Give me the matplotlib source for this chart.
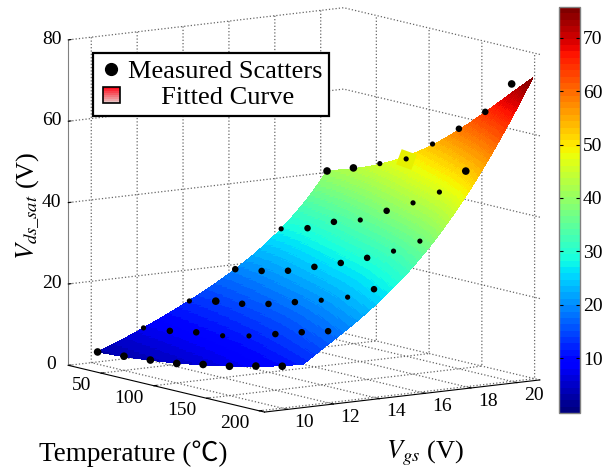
import matplotlib
matplotlib.use('Agg')
import matplotlib.pyplot as plt
import numpy as np
from matplotlib.cm import ScalarMappable
from matplotlib.colors import LinearSegmentedColormap, Normalize
from matplotlib.legend_handler import HandlerBase
from matplotlib.lines import Line2D
from matplotlib.patches import Patch, Rectangle
from matplotlib.transforms import ScaledTranslation

temps = [25, 50, 75, 100, 125, 150, 175, 200]
vgs = [10, 12, 14, 16, 18, 20]

# measured points, one list per Vgs
vds_10 = [3.0, 3.5, 4.1, 4.8, 6.1, 7.2, 8.8, 10.3]
vds_12 = [7.6, 8.4, 9.6, 10.3, 11.8, 13.8, 15.8, 17.6]
vds_14 = [12.9, 14.4, 15.3, 16.8, 18.8, 20.8, 23.1, 26.6]
vds_16 = [19.4, 20.5, 22.1, 24.6, 27.1, 29.9, 33.1, 37.1]
vds_18 = [28.0, 29.7, 32.8, 34.8, 38.6, 42.1, 46.3, 53.0]
vds_20 = [40.9, 43.2, 45.8, 48.5, 53.7, 59.0, 64.7, 73.1]

# fitted surface, it runs on past the last measured temp
fit_temps = [25, 50, 75, 100, 125, 150, 175, 200, 220]
fit_10 = [3.0, 3.5, 4.1, 4.8, 6.1, 7.2, 8.8, 10.3, 12.1]
fit_12 = [7.6, 8.4, 9.6, 10.3, 11.8, 13.8, 15.8, 17.6, 19.9]
fit_14 = [12.9, 14.4, 15.3, 16.8, 18.8, 20.8, 23.1, 25.6, 28.6]
fit_16 = [19.4, 20.5, 22.1, 24.6, 27.1, 29.9, 33.1, 36.6, 40.8]
fit_18 = [28.0, 29.7, 32.8, 34.8, 38.6, 42.1, 46.3, 50.6, 56.5]
fit_20 = [40.9, 43.2, 45.8, 48.5, 53.7, 59.0, 64.7, 70.6, 76.0]

plt.rcParams['font.family'] = ['Liberation Serif', 'Noto Sans CJK SC']
plt.rcParams['mathtext.fontset'] = 'stix'

fig = plt.figure(figsize=(6.13, 4.74), dpi=100)
ax = fig.add_axes([-4 / 613, -44 / 474, 600 / 613, 600 / 474], projection='3d', proj_type='ortho')
ax.computed_zorder = False
ax.view_init(elev=9.6, azim=-35)
ax.set_box_aspect((342, 336, 330), zoom=0.942)
ax.patch.set_alpha(0)
ax.set_xlim(19, 205, view_margin=0)
ax.set_ylim(9, 21, view_margin=0)
ax.set_zlim(0, 80, view_margin=0)

jet = plt.get_cmap('jet', 64)
norm = Normalize(-0.3, 75.8)

# only smooths the read grid so the shading comes out in fine bands
fit_rows = np.array([fit_10, fit_12, fit_14, fit_16, fit_18, fit_20])
fine_t = np.linspace(fit_temps[0], fit_temps[-1], 140)
fine_v = np.linspace(vgs[0], vgs[-1], 140)
rows = np.array([np.polyval(np.polyfit(fit_temps, r, 4), fine_t) for r in fit_rows])
fine_z = np.array([np.polyval(np.polyfit(vgs, c, 4), fine_v) for c in rows.T]).T
tt, vv = np.meshgrid(fine_t, fine_v)
ax.plot_surface(tt, vv, fine_z, cmap=jet, norm=norm, rcount=140, ccount=140,
                linewidth=0, antialiased=False, shade=False, zorder=2)

tg, vg = np.meshgrid(temps, vgs)
zg = np.array([vds_10, vds_12, vds_14, vds_16, vds_18, vds_20])
# dots sink into the surface by different amounts in the original
big, med, small = 30, 22, 14
dot_sizes = [[big, big, big, big, big, big, big, big],
             [small, med, med, small, small, med, med, med],
             [small, big, med, med, med, small, small, med],
             [med, med, med, med, med, med, small, small],
             [small, med, med, small, med, small, small, big],
             [big, big, small, small, small, med, med, big]]
# the odd yellow tile on the back edge
ax.scatter([temps[3]], [vgs[5]], [zg[5][3]], marker=(4, 0, 25), s=270, c='#e6f000',
           depthshade=False, linewidths=0, zorder=3)
ax.scatter(tg.ravel(), vg.ravel(), zg.ravel(), c='k', s=np.ravel(dot_sizes),
           depthshade=False, linewidths=0, zorder=4)

ax.set_xticks([50, 100, 150, 200])
ax.set_yticks([10, 12, 14, 16, 18, 20])
ax.set_zticks([0, 20, 40, 60, 80])
ax.tick_params(labelsize=14, pad=0)
ax.zaxis.set_ticks_position('lower')
for axis in (ax.xaxis, ax.yaxis, ax.zaxis):
    axis.set_pane_color((1, 1, 1, 0))
    axis.pane.set_edgecolor((1, 1, 1, 0))
    axis._axinfo['grid'].update(color='#666666', linestyle=':', linewidth=0.9)
    axis._axinfo['tick'].update(inward_factor=0.0, outward_factor=0.12)
    axis._axinfo['axisline']['linewidth'] = 1.2
ax.xaxis.line.set_color('k')
ax.yaxis.line.set_color('k')
ax.zaxis.line.set_color('#808080')

def nudge(axis, dx, dy, ha=None):
    # dx, dy in pixels at 100 dpi
    for t in axis.get_major_ticks():
        t.label1.set_transform(ax.transData + ScaledTranslation(dx / 100, dy / 100, fig.dpi_scale_trans))
        t.label1.set_va('center')
        if ha:
            t.label1.set_ha(ha)

nudge(ax.xaxis, 2, 6, 'right')
nudge(ax.yaxis, 1, 7, 'left')
nudge(ax.zaxis, -1, 6)

fig.text(133 / 613, 1 - 454 / 474, 'Temperature (℃)', fontsize=19.5, ha='center', va='center')
fig.text(425 / 613, 1 - 453 / 474, r'$V_{gs}$ (V)', fontsize=19, ha='center', va='center')
fig.text(28 / 613, 1 - 206 / 474, r'$V_{ds\_sat}$ (V)', fontsize=19, rotation=90, ha='center', va='center')

class GradientHandler(HandlerBase):
    def create_artists(self, legend, orig, x0, y0, w, h, fs, trans):
        pw, ph = fs * 0.65, fs * 0.58
        left, low = x0 + (w - pw) / 2, y0 + (h - ph) / 2
        shades = LinearSegmentedColormap.from_list('g', ['#e8c0c0', '#ff1020'])
        parts = []
        for i in range(8):
            parts.append(Rectangle((left, low + i * ph / 8), pw, ph / 8 + 0.2, fc=shades(i / 7), ec='none', transform=trans))
        parts.append(Rectangle((left, low), pw, ph, fc='none', ec='k', lw=1.2, transform=trans))
        return parts

handles = [Line2D([], [], ls='', marker='o', color='k', ms=8.5), Patch()]
leg = fig.legend(handles, ['Measured Scatters', '     Fitted Curve'], loc='upper left',
                 bbox_to_anchor=(93 / 613, 1 - 53 / 474), bbox_transform=fig.transFigure,
                 fontsize=19, fancybox=False, framealpha=1, edgecolor='k', borderpad=0.25,
                 handletextpad=0.2, labelspacing=0.1, handlelength=0.88, handleheight=0.7, borderaxespad=0,
                 handler_map={Patch: GradientHandler()})
leg.get_frame().set_linewidth(1.6)

cax = fig.add_axes([559 / 613, 61 / 474, 21 / 613, 406 / 474])
cb = fig.colorbar(ScalarMappable(norm=norm, cmap=jet), cax=cax, ticks=[10, 20, 30, 40, 50, 60, 70])
cb.ax.tick_params(labelsize=14, length=3, direction='in', right=True, left=True, color='k', pad=2)
cb.outline.set_edgecolor('#808080')
cb.outline.set_linewidth(1)

plt.savefig('out.png', dpi=100)
